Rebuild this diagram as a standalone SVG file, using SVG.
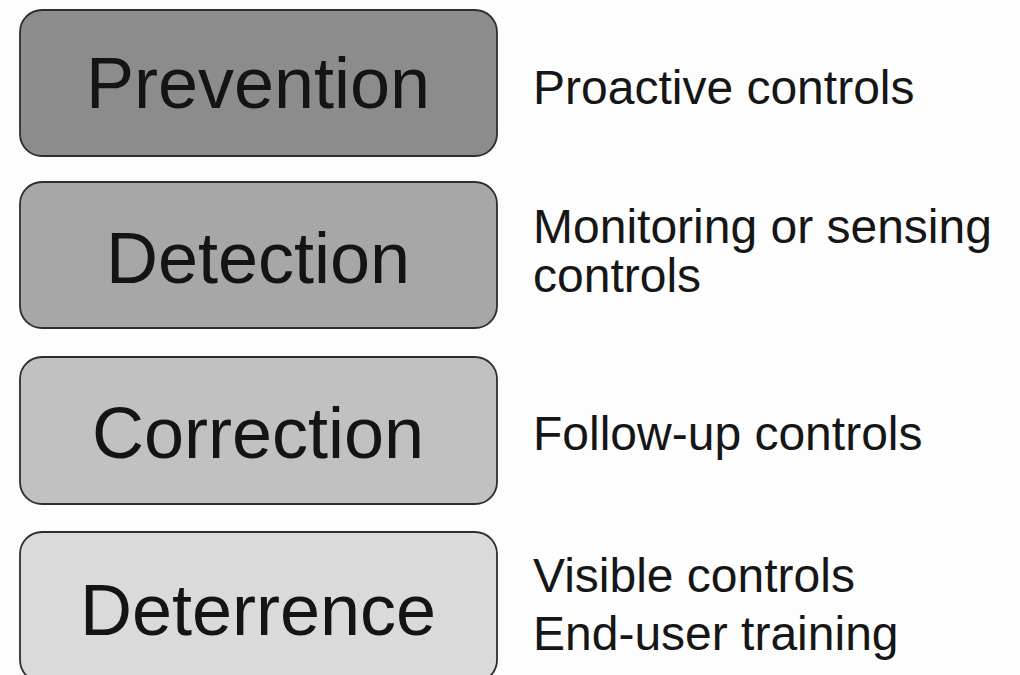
<svg xmlns="http://www.w3.org/2000/svg" width="1020" height="675" viewBox="0 0 1020 675">
  <style>
    .box { stroke: #2e2e2e; stroke-width: 1.8; }
    .title { font-family: "Liberation Sans", Arial, sans-serif; font-size: 72px; fill: #141414; text-anchor: middle; }
    .note { font-family: "Liberation Sans", Arial, sans-serif; font-size: 48px; fill: #161616; }
  </style>
  <rect width="1020" height="675" fill="#fdfdfd"/>

  <g id="prevention">
    <rect class="box" x="20" y="10" width="477" height="146" rx="22" fill="#8c8c8c"/>
    <text class="title" x="258" y="108">Prevention</text>
  </g>
  <g id="detection">
    <rect class="box" x="20" y="182" width="477" height="146" rx="22" fill="#a7a7a7"/>
    <text class="title" x="258" y="283">Detection</text>
  </g>
  <g id="correction">
    <rect class="box" x="20" y="357" width="477" height="147" rx="22" fill="#c1c1c1"/>
    <text class="title" x="258" y="458">Correction</text>
  </g>
  <g id="deterrence">
    <rect class="box" x="20" y="532" width="477" height="150" rx="22" fill="#dadada"/>
    <text class="title" x="258" y="635">Deterrence</text>
  </g>

  <g id="notes">
    <text class="note" x="533" y="104">Proactive controls</text>
    <text class="note" x="533" y="243">Monitoring or sensing</text>
    <text class="note" x="533" y="292">controls</text>
    <text class="note" x="533" y="450">Follow-up controls</text>
    <text class="note" x="533" y="592">Visible controls</text>
    <text class="note" x="533" y="650">End-user training</text>
  </g>
  <g id="connectors"/>
</svg>
